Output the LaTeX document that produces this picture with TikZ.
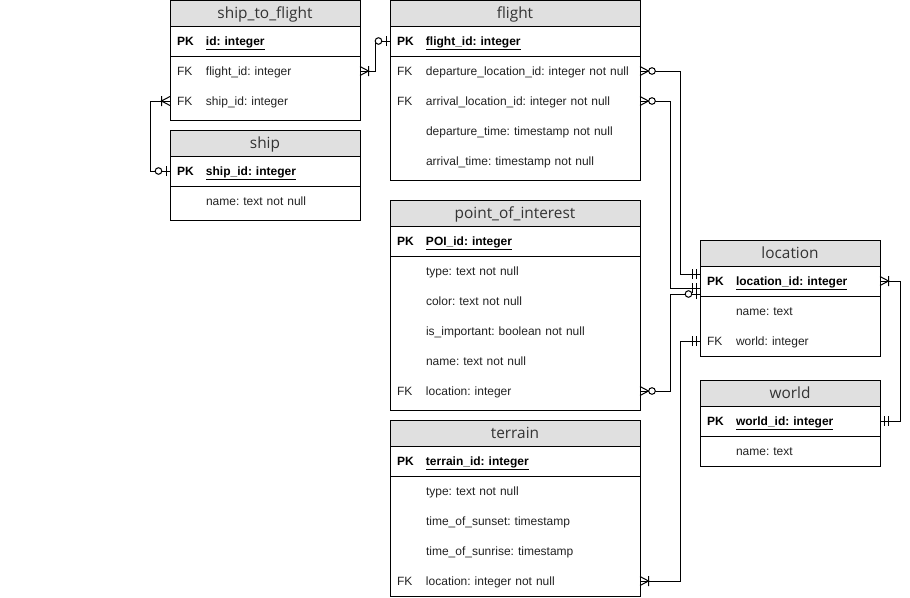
\documentclass[tikz,border=0pt]{standalone}
\usepackage{fontspec}
\setmainfont{Liberation Sans}
\newfontfamily\headfont{Open Sans}
\frenchspacing
\usetikzlibrary{positioning}
\definecolor{headgray}{HTML}{E0E0E0}
\definecolor{headtext}{HTML}{333333}
\definecolor{fieldtext}{HTML}{222222}
\newcommand{\pkey}[1]{\makebox[29pt][l]{\textbf{PK}}\underline{\textbf{#1}}}
\newcommand{\fkey}{\makebox[29pt][l]{FK}}
\newcommand{\nokey}{\makebox[29pt][l]{}}
\tikzset{
  tblhead/.style={draw, fill=headgray, minimum height=26pt, inner sep=0pt, outer sep=0pt,
    text height=12.5pt, text depth=2pt, text=headtext,
    font=\headfont\fontsize{15.4}{18}\selectfont},
  tblrow/.style={minimum height=30pt, inner xsep=7pt, inner ysep=0pt, outer sep=0pt,
    align=left, text height=11.5pt, text depth=2pt, text=fieldtext,
    font=\fontsize{12}{14}\selectfont},
  pkrow/.style={tblrow, draw, text=black},
  % ER end markers, drawn pointing away from the table
  mandone/.pic={\draw (4,-5) -- (4,5) (8,-5) -- (8,5);},
  zeroone/.pic={\draw (4,-5) -- (4,5); \draw[fill=white] (11.5,0) circle (3.3pt);},
  onemany/.pic={\draw (0,-4.5) -- (8.5,0) -- (0,4.5) (8.5,-5) -- (8.5,5);},
  zeromany/.pic={\draw (0,-4.5) -- (8.5,0) -- (0,4.5); \draw[fill=white] (12,0) circle (3.3pt);},
}

\begin{document}
\begin{tikzpicture}[x=1pt, y=-1pt, line width=1pt]
  \useasboundingbox (0,0) rectangle (910,597);

  % ship_to_flight
  \node[tblhead, minimum width=190pt, anchor=north west] (stf) at (170,0) {ship\_to\_flight};
  \node[pkrow, text width=176pt, below=0pt of stf] (stf-pk) {\pkey{id: integer}};
  \node[tblrow, text width=176pt, below=0pt of stf-pk] (stf-fl) {\fkey flight\_id: integer};
  \node[tblrow, text width=176pt, below=0pt of stf-fl] (stf-sh) {\fkey ship\_id: integer};
  \draw (stf-pk.south west) rectangle ([yshift=-4pt]stf-sh.south east);

  % ship
  \node[tblhead, minimum width=190pt, anchor=north west] (ship) at (170,130) {ship};
  \node[pkrow, text width=176pt, below=0pt of ship] (ship-pk) {\pkey{ship\_id: integer}};
  \node[tblrow, text width=176pt, below=0pt of ship-pk] (ship-nm) {\nokey name: text not null};
  \draw (ship-pk.south west) rectangle ([yshift=-4pt]ship-nm.south east);

  % flight
  \node[tblhead, minimum width=250pt, anchor=north west] (flight) at (390,0) {flight};
  \node[pkrow, text width=236pt, below=0pt of flight] (flight-pk) {\pkey{flight\_id: integer}};
  \node[tblrow, text width=236pt, below=0pt of flight-pk] (flight-dep) {\fkey departure\_location\_id: integer not null};
  \node[tblrow, text width=236pt, below=0pt of flight-dep] (flight-arr) {\fkey arrival\_location\_id: integer not null};
  \node[tblrow, text width=236pt, below=0pt of flight-arr] (flight-dt) {\nokey departure\_time: timestamp not null};
  \node[tblrow, text width=236pt, below=0pt of flight-dt] (flight-at) {\nokey arrival\_time: timestamp not null};
  \draw (flight-pk.south west) rectangle ([yshift=-4pt]flight-at.south east);

  % point_of_interest
  \node[tblhead, minimum width=250pt, anchor=north west] (poi) at (390,200) {point\_of\_interest};
  \node[pkrow, text width=236pt, below=0pt of poi] (poi-pk) {\pkey{POI\_id: integer}};
  \node[tblrow, text width=236pt, below=0pt of poi-pk] (poi-ty) {\nokey type: text not null};
  \node[tblrow, text width=236pt, below=0pt of poi-ty] (poi-co) {\nokey color: text not null};
  \node[tblrow, text width=236pt, below=0pt of poi-co] (poi-im) {\nokey is\_important: boolean not null};
  \node[tblrow, text width=236pt, below=0pt of poi-im] (poi-nm) {\nokey name: text not null};
  \node[tblrow, text width=236pt, below=0pt of poi-nm] (poi-loc) {\fkey location: integer};
  \draw (poi-pk.south west) rectangle ([yshift=-4pt]poi-loc.south east);

  % terrain
  \node[tblhead, minimum width=250pt, anchor=north west] (ter) at (390,420) {terrain};
  \node[pkrow, text width=236pt, below=0pt of ter] (ter-pk) {\pkey{terrain\_id: integer}};
  \node[tblrow, text width=236pt, below=0pt of ter-pk] (ter-ty) {\nokey type: text not null};
  \node[tblrow, text width=236pt, below=0pt of ter-ty] (ter-ss) {\nokey time\_of\_sunset: timestamp};
  \node[tblrow, text width=236pt, below=0pt of ter-ss] (ter-sr) {\nokey time\_of\_sunrise: timestamp};
  \node[tblrow, text width=236pt, below=0pt of ter-sr] (ter-loc) {\fkey location: integer not null};
  \draw (ter-pk.south west) rectangle (ter-loc.south east);

  % location
  \node[tblhead, minimum width=180pt, anchor=north west] (loc) at (700,240) {location};
  \node[pkrow, text width=166pt, below=0pt of loc] (loc-pk) {\pkey{location\_id: integer}};
  \node[tblrow, text width=166pt, below=0pt of loc-pk] (loc-nm) {\nokey name: text};
  \node[tblrow, text width=166pt, below=0pt of loc-nm] (loc-wo) {\fkey world: integer};
  \draw (loc-pk.south west) rectangle (loc-wo.south east);

  % world
  \node[tblhead, minimum width=180pt, anchor=north west] (world) at (700,380) {world};
  \node[pkrow, text width=166pt, below=0pt of world] (world-pk) {\pkey{world\_id: integer}};
  \node[tblrow, text width=166pt, below=0pt of world-pk] (world-nm) {\nokey name: text};
  \draw (world-pk.south west) rectangle (world-nm.south east);

  % relations
  \draw (stf-fl.east) -- ++(15,0) |- (flight-pk.west);
  \draw (stf-sh.west) -- ++(-20,0) |- (ship-pk.west);
  \draw (flight-dep.east) -- ++(40,0) |- ([yshift=7pt]loc-pk.west);
  \draw (flight-arr.east) -- ++(30,0) |- ([yshift=-7pt]loc-pk.west);
  \draw (poi-loc.east) -- ++(30,0) |- ([yshift=-13pt]loc-pk.west);
  \draw (ter-loc.east) -- ++(40,0) |- (loc-wo.west);
  \draw (loc-pk.east) -- ++(20,0) |- (world-pk.east);

  % end markers
  \path (stf-fl.east) pic {onemany} (flight-pk.west) pic[rotate=180] {zeroone};
  \path (stf-sh.west) pic[rotate=180] {onemany} (ship-pk.west) pic[rotate=180] {zeroone};
  \path (flight-dep.east) pic {zeromany} ([yshift=7pt]loc-pk.west) pic[rotate=180] {mandone};
  \path (flight-arr.east) pic {zeromany} ([yshift=-7pt]loc-pk.west) pic[rotate=180] {mandone};
  \path (poi-loc.east) pic {zeromany} ([yshift=-13pt]loc-pk.west) pic[rotate=180] {zeroone};
  \path (ter-loc.east) pic {onemany} (loc-wo.west) pic[rotate=180] {mandone};
  \path (loc-pk.east) pic {onemany} (world-pk.east) pic {mandone};
\end{tikzpicture}
\end{document}
